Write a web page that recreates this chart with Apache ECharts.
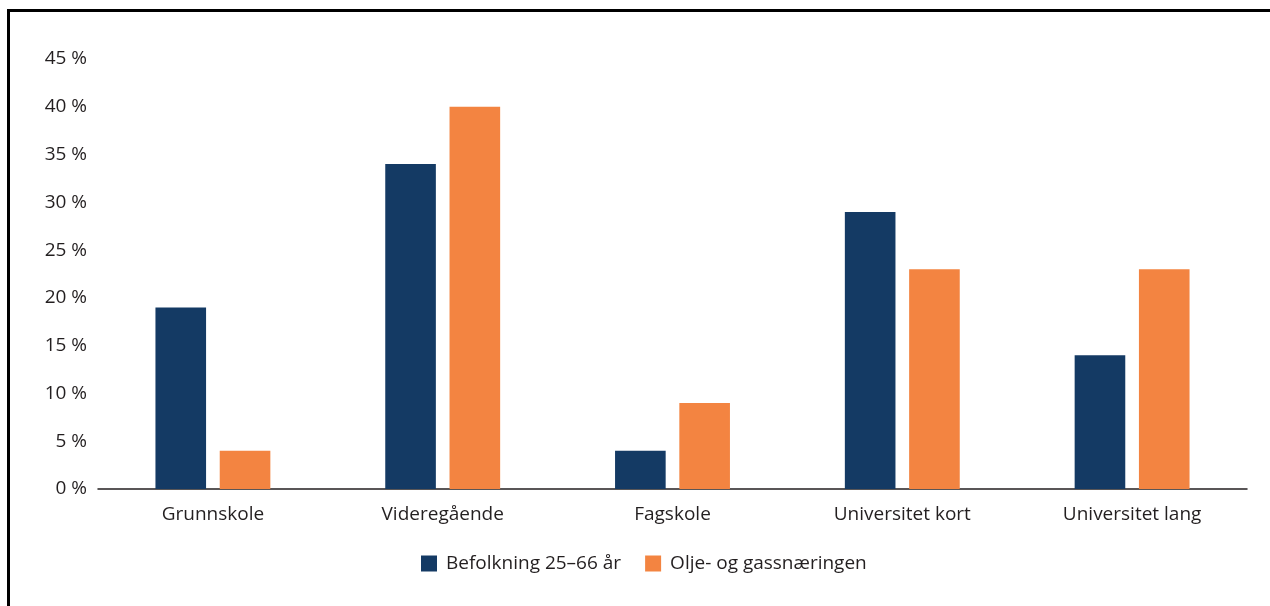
<!DOCTYPE html>
<html>
<head>
<meta charset="utf-8">
<script src="https://cdn.jsdelivr.net/npm/echarts@6/dist/echarts.min.js"></script>
<style>
  html, body { margin: 0; padding: 0; background: #fff; }
  #frame { position: absolute; left: 7px; top: 9px; width: 1263px; height: 597px;
           border-top: 3px solid #000; border-left: 3px solid #000; }
  #chart { position: absolute; left: 0; top: 0; width: 1270px; height: 606px; }
</style>
</head>
<body>
<div id="frame"></div>
<div id="chart"></div>
<script>
// kategorier og verdier (prosent)
var categories = ['Grunnskole', 'Videregående', 'Fagskole', 'Universitet kort', 'Universitet lang'];
var befolkning = [19, 34, 4, 29, 14];
var oljeGass = [4, 40, 9, 23, 23];
var seriesNames = ['Befolkning 25–66 år', 'Olje- og gassnæringen'];

var myChart = echarts.init(document.getElementById('chart'));
var font = '"Open Sans", "Noto Sans", sans-serif';
var option = {
    animation: false,
    textStyle: { fontFamily: font },
    grid: { left: 98, right: 23, top: 59, bottom: 117 },
    legend: {
        bottom: 28,
        left: 416,
        itemWidth: 16,
        itemHeight: 16,
        itemGap: 24,
        icon: 'rect',
        textStyle: { fontSize: 19, color: '#231f20', fontFamily: font, padding: [0, 0, 0, 4] },
        data: seriesNames
    },
    xAxis: {
        type: 'category',
        data: categories,
        axisLine: { lineStyle: { color: '#231f20', width: 1.5 } },
        axisTick: { show: false },
        axisLabel: { fontSize: 19, color: '#231f20', margin: 16, fontFamily: font }
    },
    yAxis: {
        type: 'value',
        min: 0,
        max: 45,
        interval: 5,
        axisLine: { show: false },
        axisTick: { show: false },
        splitLine: { show: false },
        axisLabel: {
            fontSize: 19, color: '#231f20', margin: 11, fontFamily: font,
            formatter: function (v) { return v + ' %'; }
        }
    },
    series: [
        {
            name: seriesNames[0],
            type: 'bar',
            data: befolkning,
            barGap: '27%',
            barCategoryGap: '50%',
            itemStyle: { color: '#143a64' }
        },
        {
            name: seriesNames[1],
            type: 'bar',
            data: oljeGass,
            itemStyle: { color: '#f38441' }
        }
    ]
};
myChart.setOption(option);
</script>
</body>
</html>
